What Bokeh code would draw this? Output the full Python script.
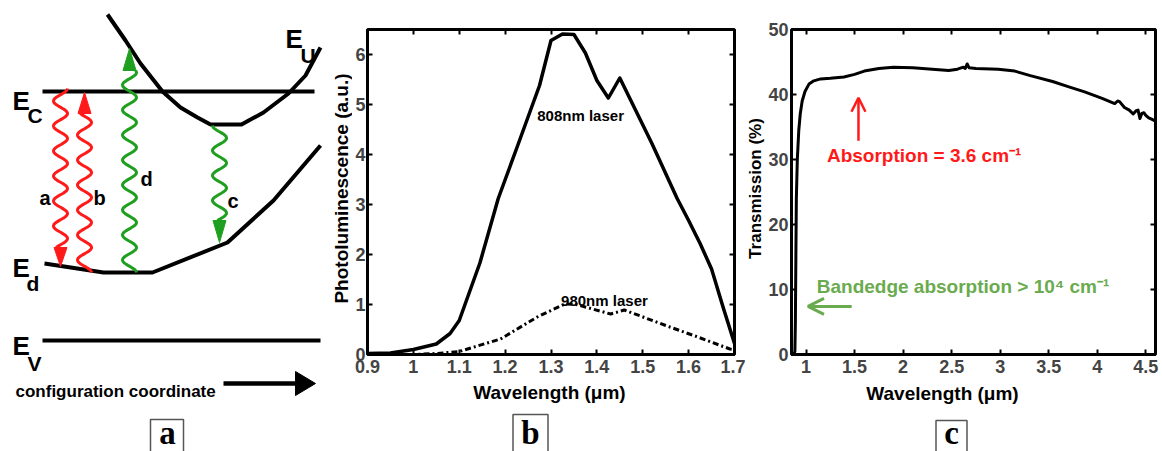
import numpy as np
from bokeh.plotting import figure
from bokeh.layouts import row, column
from bokeh.models import Range1d, FixedTicker, LinearAxis, Arrow, OpenHead, Label
from bokeh.core.properties import value
from bokeh.embed import file_html
from bokeh.resources import INLINE

SANS = "Liberation Sans"
SERIF = "Liberation Serif"
RED = "#ff1a1a"
GREEN_A = "#1f9f1f"
GREEN_C = "#6aab4f"
BOX = "#555555"

# ---------------- panel a : configuration-coordinate schematic ----------------
ec_x = [42, 314]
ec_y = [91, 91]
ev_x = [42, 320]
ev_y = [340, 340]
eu_x = [107, 125, 140, 162, 180, 197, 210, 241, 263, 288, 305, 320]
eu_y = [14, 40, 63, 91, 107, 117, 124, 124, 112, 93, 75, 47]
ed_x = [44, 103, 152, 227, 273, 320]
ed_y = [263, 272, 272, 242, 200, 145]

level_sub = ["C", "U", "d", "V"]
level_x = [12, 285, 12, 12]
level_y = [100, 38, 267, 345]
level_sub_x = [27, 300, 26, 27]
level_sub_y = [115, 55, 283, 363]

trans_names = ["a", "b", "d", "c"]
trans_colors = [RED, RED, GREEN_A, GREEN_A]
trans_x = [60, 84, 129, 219]
trans_y_start = [88, 272, 272, 125]
trans_y_head = [247, 113, 70, 220]
trans_y_tip = [266, 92, 48, 242]
trans_phase = [0.0, 0.0, 0.0, np.pi]
trans_label_x = [39, 93, 140, 227]
trans_label_y = [197, 197, 178, 200]

coord_text = "configuration coordinate"
coord_arrow_x = [223, 297]
coord_arrow_y = 383

# ---------------- panel b : photoluminescence ----------------
pl_wl_808 = [0.90, 0.95, 1.00, 1.05, 1.08, 1.10, 1.145, 1.185, 1.225, 1.275, 1.30,
             1.325, 1.35, 1.375, 1.40, 1.425, 1.45, 1.52, 1.575, 1.60, 1.625, 1.65,
             1.675, 1.70]
pl_808 = [0.02, 0.03, 0.10, 0.21, 0.42, 0.68, 1.83, 3.12, 4.12, 5.38, 6.28,
          6.41, 6.40, 6.03, 5.48, 5.13, 5.53, 4.22, 3.12, 2.68, 2.22, 1.71,
          0.95, 0.22]
pl_wl_980 = [0.90, 1.00, 1.05, 1.10, 1.19, 1.27, 1.33, 1.355, 1.43, 1.46, 1.55,
             1.62, 1.69, 1.70]
pl_980 = [0.0, 0.0, 0.02, 0.06, 0.31, 0.75, 1.01, 1.00, 0.81, 0.89, 0.58,
          0.35, 0.11, 0.10]
b_xticks = [0.9, 1, 1.1, 1.2, 1.3, 1.4, 1.5, 1.6, 1.7]
b_xlabels = ["0.9", "1", "1.1", "1.2", "1.3", "1.4", "1.5", "1.6", "1.7"]
b_yticks = [0, 1, 2, 3, 4, 5, 6]
b_ylabels = ["0", "1", "2", "3", "4", "5", "6"]
b_text = ["808nm laser", "980nm laser"]
b_text_x = [1.27, 1.322]
b_text_y = [4.78, 1.08]
b_xtitle = "Wavelength (\u03bcm)"
b_ytitle = "Photoluminescence (a.u.)"

# ---------------- panel c : transmission ----------------
tr_wl = [0.875, 0.885, 0.89, 0.895, 0.90, 0.91, 0.925, 0.94, 0.96, 0.99, 1.03,
         1.08, 1.15, 1.25, 1.39, 1.50, 1.60, 1.75, 1.90, 2.10, 2.30, 2.47, 2.56,
         2.62, 2.64, 2.66, 2.68, 2.75, 2.98, 3.15, 3.31, 3.54, 3.70, 3.87, 4.05,
         4.18, 4.21, 4.23, 4.28, 4.33, 4.37, 4.40, 4.42, 4.44, 4.46, 4.48, 4.50,
         4.53, 4.56, 4.60]
tr = [0.0, 0.5, 5.0, 15.0, 24.0, 30.0, 34.5, 37.0, 39.0, 40.5, 41.6,
      42.1, 42.4, 42.5, 42.7, 43.1, 43.6, 44.0, 44.2, 44.1, 43.9, 43.7, 43.9,
      44.2, 44.0, 44.7, 44.1, 44.0, 43.9, 43.6, 42.9, 42.0, 41.2, 40.4, 39.4,
      38.6, 39.0, 38.9, 38.0, 37.6, 37.0, 37.5, 37.6, 36.3, 37.1, 37.2, 36.8,
      36.4, 36.2, 35.9]
c_xticks = [1, 1.5, 2, 2.5, 3, 3.5, 4, 4.5]
c_xlabels = ["1", "1.5", "2", "2.5", "3", "3.5", "4", "4.5"]
c_yticks = [0, 10, 20, 30, 40, 50]
c_ylabels = ["0", "10", "20", "30", "40", "50"]
c_xtitle = "Wavelength (\u03bcm)"
c_ytitle = "Transmission (%)"
absorb_text = "Absorption = 3.6 cm\u207b\u00b9"
absorb_text_xy = (1.215, 30.6)
absorb_arrow = (1.54, 32.9, 1.54, 39.5)
band_text = "Bandedge absorption > 10\u2074 cm\u207b\u00b9"
band_text_xy = (1.11, 10.5)
band_arrow = (1.47, 7.4, 1.02, 7.4)

# page geometry (pixels): columns of the row and the heights of the plot / caption strips
W_A, W_YB, W_B, W_YC, W_C = 325, 27, 393, 20, 397
H, H_PLOT = 451, 381


def blank(width, height, x0, x1, y_bottom, y_top):
    f = figure(width=width, height=height, x_range=Range1d(x0, x1),
               y_range=Range1d(y_bottom, y_top), x_axis_type=None, y_axis_type=None,
               output_backend="svg", toolbar_location=None, min_border=0,
               frame_align=False)
    f.outline_line_color = None
    f.grid.visible = False
    return f


# =========================== panel a ===========================
pa = blank(W_A, H, 0, W_A, H, 0)
for xs, ys in [(ec_x, ec_y), (ev_x, ev_y), (eu_x, eu_y), (ed_x, ed_y)]:
    pa.line(xs, ys, line_width=4, color="black", line_join="round")

AMP, PERIOD = 7.0, 25.0
for i in range(len(trans_names)):
    ys = np.linspace(trans_y_start[i], trans_y_head[i], 200)
    xs = trans_x[i] + AMP * np.cos(2 * np.pi * np.abs(ys - trans_y_start[i]) / PERIOD + trans_phase[i])
    pa.line(xs, ys, line_width=3, color=trans_colors[i])
    pa.patch([trans_x[i] - 6.5, trans_x[i] + 6.5, trans_x[i]],
             [trans_y_head[i], trans_y_head[i], trans_y_tip[i]],
             color=trans_colors[i], line_width=1)
pa.text(trans_label_x, trans_label_y, text=trans_names, text_font=value(SANS),
        text_font_style="bold", text_font_size="20px", text_color="black",
        text_baseline="alphabetic", text_align="left")
pa.text(level_x, level_y, text=["E"] * 4, text_font=value(SANS), text_font_style="bold",
        text_font_size="26px", text_baseline="alphabetic", text_align="left")
pa.text(level_sub_x, level_sub_y, text=level_sub, text_font=value(SANS),
        text_font_style="bold", text_font_size="21px", text_baseline="alphabetic",
        text_align="left")
pa.text([15], [391], text=[coord_text], text_font=value(SANS), text_font_style="bold",
        text_font_size="17px", text_baseline="alphabetic", text_align="left")
pa.line(coord_arrow_x, [coord_arrow_y] * 2, line_width=4.5, color="black")
pa.patch([coord_arrow_x[1] - 2, coord_arrow_x[1] - 2, coord_arrow_x[1] + 18],
         [coord_arrow_y - 12, coord_arrow_y + 12, coord_arrow_y], color="black")
pa.rect([166.5], [437], width=33, height=36, fill_color=None, line_color=BOX, line_width=1.5)
pa.text([167], [450], text=["a"], text_font=value(SERIF), text_font_style="bold",
        text_font_size="33px", text_baseline="bottom", text_align="center")


# =========================== helpers ===========================
def style(p, xt, xl, yt, yl, ystandoff):
    p.grid.visible = False
    p.outline_line_color = "black"
    p.outline_line_width = 3
    xa, ya = p.below[0], p.left[0]
    xa.ticker = FixedTicker(ticks=xt)
    ya.ticker = FixedTicker(ticks=yt)
    xa.major_label_overrides = dict(zip(xt, xl))
    ya.major_label_overrides = dict(zip(yt, yl))
    top = LinearAxis(ticker=FixedTicker(ticks=xt), major_label_text_font_size="0px",
                     major_label_text_color=None, major_label_standoff=0)
    right = LinearAxis(ticker=FixedTicker(ticks=yt), major_label_text_font_size="0px",
                       major_label_text_color=None, major_label_standoff=0)
    p.add_layout(top, "above")
    p.add_layout(right, "right")
    for ax in (xa, ya, top, right):
        ax.axis_line_color = None
        ax.major_tick_in = 5
        ax.major_tick_out = 0
        ax.major_tick_line_width = 2
        ax.minor_tick_line_color = None
    for ax in (xa, ya):
        ax.major_label_text_font = SANS
        ax.major_label_text_font_style = "bold"
        ax.major_label_text_font_size = "18px"
    xa.major_label_standoff = 5
    ya.major_label_standoff = ystandoff


def ytitle_fig(width, x0, text, xc, yc, size):
    f = blank(width, H, x0, x0 + width, 0, H)
    f.text([xc], [H - yc], text=[text], angle=np.pi / 2, text_font=value(SANS),
           text_font_style="bold", text_font_size=size, text_align="center",
           text_baseline="middle")
    return f


def caption_fig(width, x0, xtitle, xtitle_xc, xtitle_base, letter, box_l, box_r, box_t):
    f = blank(width, H - H_PLOT, x0, x0 + width, H, H_PLOT)
    f.text([xtitle_xc], [xtitle_base], text=[xtitle], text_font=value(SANS),
           text_font_style="bold", text_font_size="19px", text_align="center",
           text_baseline="alphabetic")
    f.quad(left=[box_l], right=[box_r], top=[box_t], bottom=[H + 5], fill_color=None,
           line_color=BOX, line_width=1.5)
    f.text([(box_l + box_r) / 2], [H - 1], text=[letter], text_font=value(SERIF),
           text_font_style="bold", text_font_size="33px", text_align="center",
           text_baseline="bottom")
    return f


# =========================== panel b ===========================
x0_b = W_A + W_YB
pb = figure(width=W_B, height=H_PLOT, x_range=Range1d(0.9, 1.7), y_range=Range1d(0, 6.5),
            output_backend="svg", toolbar_location=None, frame_align=False,
            min_border_left=12, min_border_right=11, min_border_top=29, min_border_bottom=27)
style(pb, b_xticks, b_xlabels, b_yticks, b_ylabels, 2)
pb.line(pl_wl_808, pl_808, line_width=3.5, color="black", line_join="round")
pb.line(pl_wl_980, pl_980, line_width=3, color="black", line_dash="6 3 2 3")
pb.text(b_text_x, b_text_y, text=b_text, text_font=value(SANS), text_font_style="bold",
        text_font_size="15px", text_baseline="alphabetic", text_align="left")
yb = ytitle_fig(W_YB, W_A, b_ytitle, 341, 188, "19px")
cb = caption_fig(W_B, x0_b, b_xtitle, 549, 392, "b", 512.5, 547.5, 414)

# =========================== panel c ===========================
x0_yc = x0_b + W_B
x0_c = x0_yc + W_YC
pc = figure(width=W_C, height=H_PLOT, x_range=Range1d(0.85, 4.6), y_range=Range1d(0, 50),
            output_backend="svg", toolbar_location=None, frame_align=False,
            min_border_left=23, min_border_right=7, min_border_top=29, min_border_bottom=27)
style(pc, c_xticks, c_xlabels, c_yticks, c_ylabels, 3)
pc.line(tr_wl, tr, line_width=3, color="black", line_join="round")
pc.add_layout(Arrow(end=OpenHead(size=14, line_color=RED, line_width=2.5),
                    x_start=absorb_arrow[0], y_start=absorb_arrow[1],
                    x_end=absorb_arrow[2], y_end=absorb_arrow[3],
                    line_color=RED, line_width=2.5))
pc.add_layout(Arrow(end=OpenHead(size=16, line_color=GREEN_C, line_width=3),
                    x_start=band_arrow[0], y_start=band_arrow[1],
                    x_end=band_arrow[2], y_end=band_arrow[3],
                    line_color=GREEN_C, line_width=3))
pc.add_layout(Label(x=absorb_text_xy[0], y=absorb_text_xy[1], text=absorb_text,
                    text_font=SANS, text_font_style="bold", text_font_size="19px",
                    text_color=RED, text_baseline="alphabetic"))
pc.add_layout(Label(x=band_text_xy[0], y=band_text_xy[1], text=band_text,
                    text_font=SANS, text_font_style="bold", text_font_size="19px",
                    text_color=GREEN_C, text_baseline="alphabetic"))
yc = ytitle_fig(W_YC, x0_yc, c_ytitle, x0_yc + 10, 188, "17px")
cc = caption_fig(W_C, x0_c, c_xtitle, 942, 393, "c", 935.5, 966.5, 420)

layout = row(pa, yb, column(pb, cb), yc, column(pc, cc))
open("out.html", "w").write(file_html(layout, INLINE))
